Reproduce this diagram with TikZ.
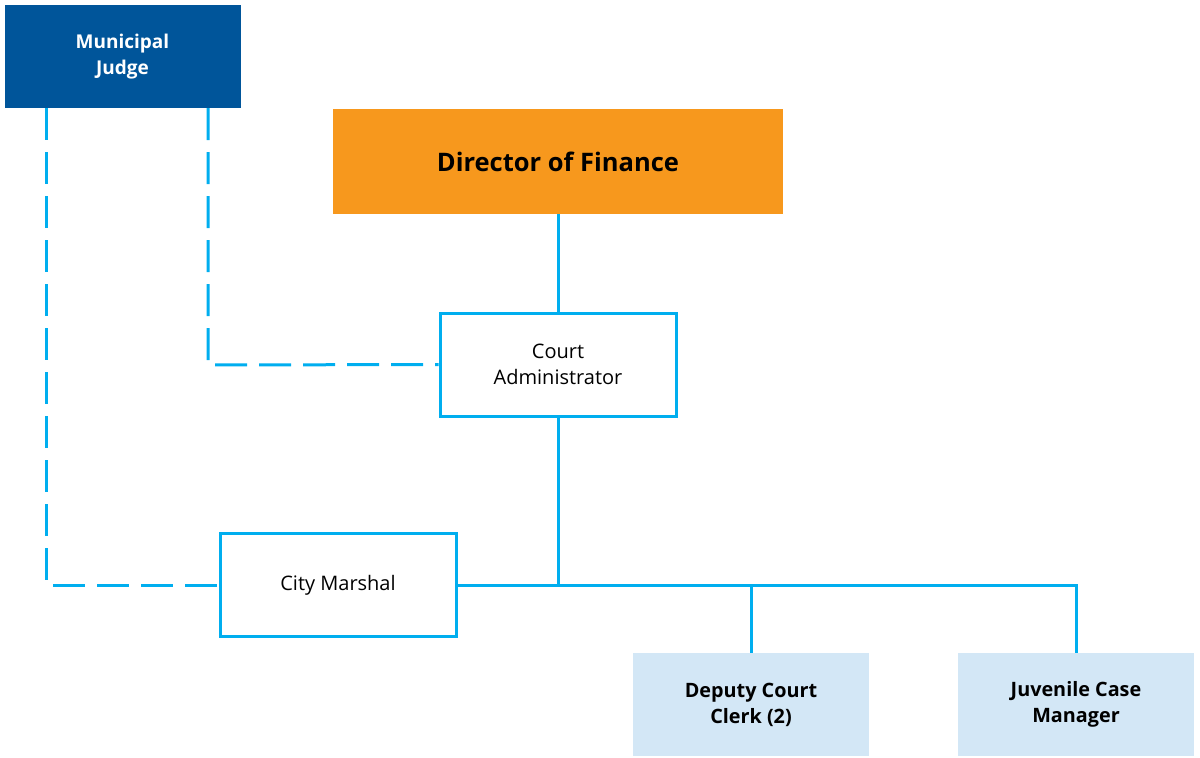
\documentclass[tikz,border=0pt]{standalone}
\usepackage{fontspec}
\setmainfont{Open Sans}
\definecolor{judgeblue}{HTML}{00559A}
\definecolor{finorange}{HTML}{F7981D}
\definecolor{linecyan}{HTML}{00AEEF}
\definecolor{lightbox}{HTML}{D3E7F6}
\begin{document}
\begin{tikzpicture}[x=1pt,y=-1pt,
  box/.style={rectangle,inner sep=0pt,minimum width=236pt,minimum height=103pt,align=center},
  whitebox/.style={box,draw=linecyan,line width=3pt,fill=white,font=\fontsize{20}{25.5}\selectfont},
  lightbx/.style={box,fill=lightbox,font=\bfseries\fontsize{19.8}{26}\selectfont},
  conn/.style={draw=linecyan,line width=3pt},
  dconn/.style={conn,dash pattern=on 32pt off 12pt}]
\useasboundingbox (0,0) rectangle (1200,758);
\node[box,fill=judgeblue,text=white,font=\bfseries\fontsize{19}{26}\selectfont] (judge) at (122.5,56.5) {Municipal\\Judge};
\node[box,fill=finorange,minimum width=450pt,minimum height=105pt,font=\bfseries\fontsize{25.5}{30}\selectfont] (fin) at (558,161.5) {Director of Finance};
\node[whitebox] (ca) at (558,364.5) {Court\\Administrator};
\node[whitebox] (cm) at (338,585) {City Marshal};
\node[lightbx] (dcc) at (751,704.5) {Deputy Court\\Clerk (2)};
\node[lightbx] (jcm) at (1076,704.5) {Juvenile Case\\Manager};
\coordinate (busL) at (cm.east);
\coordinate (busM) at (558,585);
\coordinate (busR) at (1076,585);
\coordinate (busC) at (751,585);
\coordinate (j1) at (208,365);
\coordinate (j2) at (46,585);
\draw[conn] (fin.south) -- (ca.north);
\draw[conn] (ca.south) -- (busM);
\draw[conn] (busL) -- (busR) -- (jcm.north);
\draw[conn] (busC) -- (dcc.north);
\draw[dconn] (judge.south -| j1) -- (j1) -- (ca.west);
\draw[dconn] (judge.south -| j2) -- (j2) -- (cm.west);
\end{tikzpicture}
\end{document}
